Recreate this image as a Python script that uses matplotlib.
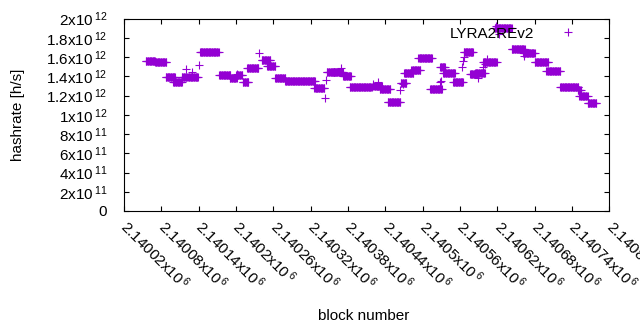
import numpy as np
import matplotlib
matplotlib.use("Agg")
import matplotlib.pyplot as plt

plt.rcParams['font.family'] = ['Liberation Sans', 'DejaVu Sans']
plt.rcParams['mathtext.fontset'] = 'custom'
plt.rcParams['mathtext.rm'] = 'Liberation Sans'
plt.rcParams['mathtext.it'] = 'Liberation Sans:italic'
plt.rcParams['mathtext.bf'] = 'Liberation Sans:bold'
plt.rcParams['mathtext.default'] = 'regular'

# ---- data: runs of blocks with a constant hashrate estimate ----
run_first_block = [2140055, 2140070, 2140087, 2140099, 2140113, 2140120, 2140123, 2140130,
                   2140141, 2140142, 2140173, 2140190, 2140201, 2140200, 2140211, 2140218,
                   2140237, 2140241, 2140250, 2140263, 2140279, 2140326, 2140343, 2140345,
                   2140346, 2140356, 2140369, 2140372, 2140383, 2140421, 2140421, 2140429,
                   2140431, 2140444, 2140464, 2140468, 2140465, 2140470, 2140482, 2140493,
                   2140512, 2140528, 2140529, 2140528, 2140533, 2140549, 2140563, 2140565,
                   2140567, 2140566, 2140576, 2140584, 2140589, 2140597, 2140600, 2140604,
                   2140597, 2140616, 2140618, 2140622, 2140643, 2140662, 2140663, 2140680,
                   2140699, 2140721, 2140749, 2140752, 2140765]
run_last_block = [2140070, 2140088, 2140102, 2140113, 2140121, 2140120, 2140139, 2140130,
                  2140141, 2140172, 2140191, 2140201, 2140201, 2140210, 2140220, 2140236,
                  2140237, 2140255, 2140263, 2140279, 2140327, 2140342, 2140343, 2140345,
                  2140359, 2140372, 2140369, 2140385, 2140418, 2140434, 2140421, 2140429,
                  2140448, 2140464, 2140464, 2140468, 2140474, 2140485, 2140496, 2140515,
                  2140531, 2140528, 2140529, 2140536, 2140552, 2140565, 2140563, 2140565,
                  2140567, 2140581, 2140589, 2140600, 2140589, 2140597, 2140600, 2140604,
                  2140619, 2140643, 2140618, 2140622, 2140664, 2140680, 2140663, 2140702,
                  2140721, 2140750, 2140754, 2140765, 2140779]
run_hashrate = [1.555e12, 1.549e12, 1.389e12, 1.344e12, 1.396e12, 1.476e12, 1.396e12, 1.448e12,
                1.518e12, 1.651e12, 1.414e12, 1.380e12, 1.424e12, 1.414e12, 1.339e12, 1.488e12,
                1.646e12, 1.573e12, 1.510e12, 1.385e12, 1.351e12, 1.273e12, 1.170e12, 1.361e12,
                1.443e12, 1.448e12, 1.486e12, 1.399e12, 1.289e12, 1.302e12, 1.320e12, 1.336e12,
                1.268e12, 1.128e12, 1.257e12, 1.320e12, 1.333e12, 1.438e12, 1.461e12, 1.594e12,
                1.268e12, 1.336e12, 1.354e12, 1.493e12, 1.432e12, 1.342e12, 1.493e12, 1.5625e12,
                1.597e12, 1.649e12, 1.420e12, 1.438e12, 1.382e12, 1.493e12, 1.528e12, 1.580e12,
                1.550e12, 1.901e12, 1.927e12, 1.841e12, 1.684e12, 1.641e12, 1.615e12, 1.545e12,
                1.455e12, 1.289e12, 1.260e12, 1.198e12, 1.120e12]

x_ticks = [2140020, 2140080, 2140140, 2140200, 2140260, 2140320, 2140380,
           2140440, 2140500, 2140560, 2140620, 2140680, 2140740, 2140800]
x_tick_labels = [r'2.14002x10$\,^{6}$', r'2.14008x10$\,^{6}$', r'2.14014x10$\,^{6}$',
                 r'2.1402x10$\,^{6}$', r'2.14026x10$\,^{6}$', r'2.14032x10$\,^{6}$',
                 r'2.14038x10$\,^{6}$', r'2.14044x10$\,^{6}$', r'2.1405x10$\,^{6}$',
                 r'2.14056x10$\,^{6}$', r'2.14062x10$\,^{6}$', r'2.14068x10$\,^{6}$',
                 r'2.14074x10$\,^{6}$', r'2.1408x10$\,^{6}$']
y_ticks = [0, 2e11, 4e11, 6e11, 8e11, 1e12, 1.2e12, 1.4e12, 1.6e12, 1.8e12, 2e12]
y_tick_labels = ['0', r'2x10$\,^{11}$', r'4x10$\,^{11}$', r'6x10$\,^{11}$', r'8x10$\,^{11}$',
                 r'1x10$\,^{12}$', r'1.2x10$\,^{12}$', r'1.4x10$\,^{12}$', r'1.6x10$\,^{12}$',
                 r'1.8x10$\,^{12}$', r'2x10$\,^{12}$']

blocks = np.concatenate([np.arange(a, b + 1) for a, b in zip(run_first_block, run_last_block)])
hashrate = np.concatenate([np.full(b - a + 1, v) for a, b, v in
                           zip(run_first_block, run_last_block, run_hashrate)])

fig = plt.figure(figsize=(6.4, 3.3), dpi=100)
ax = fig.add_axes([124 / 640, 1 - 211 / 330, (609.3 - 124) / 640, (211 - 18.5) / 330])

purple = '#9400D3'
ax.plot(blocks, hashrate, linestyle='none', marker='+', markersize=5.2,
        markeredgewidth=0.8, color=purple, label='LYRA2REv2')

ax.set_xlim(2140020, 2140800)
ax.set_ylim(0, 2e12)
ax.set_xticks(x_ticks)
ax.set_xticklabels(x_tick_labels, fontsize=11, rotation=-45, ha='left', va='center',
                   rotation_mode='anchor')
ax.set_yticks(y_ticks)
ax.set_yticklabels(y_tick_labels, fontsize=11)
ax.tick_params(direction='in', top=True, right=True, length=3.6, width=0.8, color='black')
ax.tick_params(axis='x', pad=9)
ax.tick_params(axis='y', pad=12)
ax.minorticks_off()
for s in ax.spines.values():
    s.set_linewidth(0.8)
    s.set_color('black')

ax.set_ylabel('hashrate [h/s]', fontsize=11)
ax.yaxis.set_label_coords(-0.205, 0.5)
fig.text(364 / 640, 1 - 316 / 330, 'block number', fontsize=11, ha='center', va='center')

ax.legend(loc='upper right', bbox_to_anchor=(0.958, 0.958), frameon=False, markerfirst=False,
          fontsize=11, handlelength=2.8, handletextpad=0.8, borderpad=0, borderaxespad=0,
          numpoints=1)

fig.savefig('out.png', dpi=100)
